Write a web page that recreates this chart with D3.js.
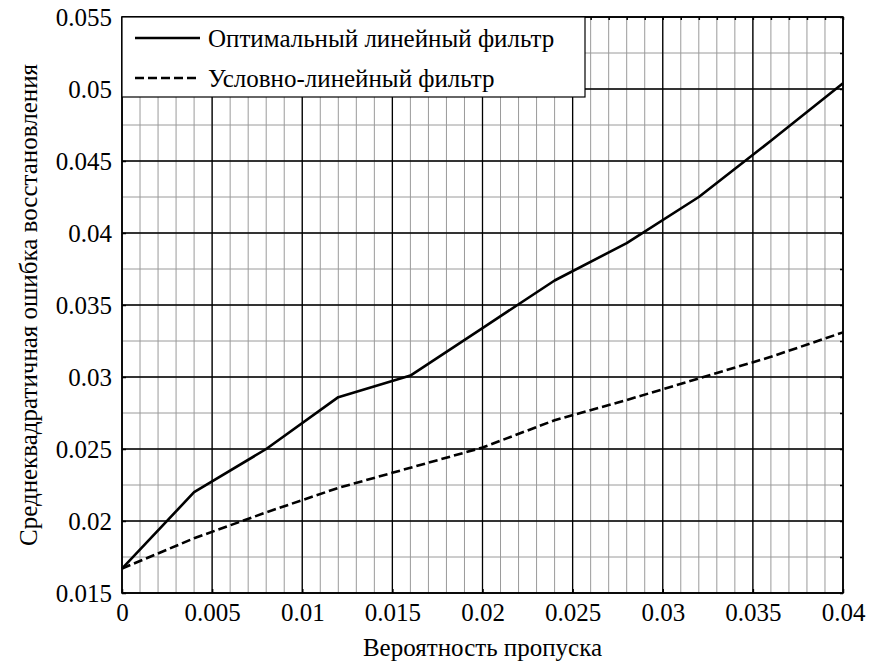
<!DOCTYPE html>
<html><head><meta charset="utf-8"><script src="https://cdnjs.cloudflare.com/ajax/libs/d3/7.8.5/d3.min.js"></script></head>
<body style="margin:0"><svg id="chart" width="873" height="666" style="display:block"></svg>
<script>
// Probability of a missing sample
const pMiss = [0, 0.004, 0.008, 0.012, 0.016, 0.020, 0.024, 0.028, 0.032, 0.036, 0.040];
// RMS reconstruction error of each filter
const optimalFilter = [0.0167, 0.0220, 0.0250, 0.0286, 0.0301, 0.0334, 0.0367, 0.0393, 0.0425, 0.0464, 0.0504];
const conditionalFilter = [0.0167, 0.0188, 0.0206, 0.0223, 0.0237, 0.0251, 0.0270, 0.0284, 0.0299, 0.0314, 0.0331];
const seriesNames = ["Оптимальный линейный фильтр", "Условно-линейный фильтр"];
const xTicks = [0, 0.005, 0.01, 0.015, 0.02, 0.025, 0.03, 0.035, 0.04];
const yTicks = [0.015, 0.02, 0.025, 0.03, 0.035, 0.04, 0.045, 0.05, 0.055];
const xLabel = "Вероятность пропуска";
const yLabel = "Среднеквадратичная ошибка восстановления";

const svg = d3.select("#chart")
  .attr("font-family", "Liberation Serif")
  .style("font-family", '"Liberation Serif"');
const L = 122, R = 843, T = 17, B = 593;

const x = d3.scaleLinear().domain([0, 0.04]).range([L, R]);
const y = d3.scaleLinear().domain([0.015, 0.055]).range([B, T]);

const xMinor = d3.range(0, 41).map(i => i * 0.001);
const yMinor = d3.range(0, 17).map(i => 0.015 + i * 0.0025);

const fmt = v => String(+v.toFixed(4));

// minor grid
const g = svg.append("g");
g.selectAll(".xm").data(xMinor).enter().append("line")
  .attr("x1", d => x(d)).attr("x2", d => x(d)).attr("y1", T).attr("y2", B)
  .attr("stroke", "#9a9a9a").attr("stroke-width", 1);
g.selectAll(".ym").data(yMinor).enter().append("line")
  .attr("y1", d => y(d)).attr("y2", d => y(d)).attr("x1", L).attr("x2", R)
  .attr("stroke", "#9a9a9a").attr("stroke-width", 1);

// major grid
g.selectAll(".xM").data(xTicks).enter().append("line")
  .attr("x1", d => x(d)).attr("x2", d => x(d)).attr("y1", T).attr("y2", B)
  .attr("stroke", "#000").attr("stroke-width", 1.3);
g.selectAll(".yM").data(yTicks).enter().append("line")
  .attr("y1", d => y(d)).attr("y2", d => y(d)).attr("x1", L).attr("x2", R)
  .attr("stroke", "#000").attr("stroke-width", 1.3);

// axes with inward ticks
const tickStyle = sel => {
  sel.attr("font-family", "Liberation Serif").attr("font-size", 25);
  sel.select(".domain").remove();
  sel.selectAll(".tick line").attr("stroke", "#000").attr("stroke-width", 1.5);
  sel.selectAll(".tick text").attr("fill", "#000")
    .attr("font-family", "Liberation Serif")
    .style("font-family", '"Liberation Serif"').style("font-size", "25px");
};
svg.append("g").attr("transform", `translate(0,${B})`)
  .call(d3.axisBottom(x).tickValues(xTicks).tickFormat(fmt).tickSizeInner(-4).tickPadding(10))
  .call(tickStyle);
svg.append("g").attr("transform", `translate(${L},0)`)
  .call(d3.axisLeft(y).tickValues(yTicks).tickFormat(fmt).tickSizeInner(-4).tickPadding(10))
  .call(tickStyle);
svg.append("g").attr("transform", `translate(0,${T})`)
  .call(d3.axisTop(x).tickValues(xMinor).tickFormat("").tickSizeInner(-3).tickSizeOuter(0))
  .call(tickStyle);
svg.append("g").attr("transform", `translate(${R},0)`)
  .call(d3.axisRight(y).tickValues(yMinor).tickFormat("").tickSizeInner(-3).tickSizeOuter(0))
  .call(tickStyle);

// frame
svg.append("rect").attr("x", L).attr("y", T).attr("width", R - L).attr("height", B - T)
  .attr("fill", "none").attr("stroke", "#000").attr("stroke-width", 1.6);

// curves
const line = d3.line().x((d, i) => x(pMiss[i])).y(d => y(d));
svg.append("path").datum(optimalFilter).attr("d", line)
  .attr("fill", "none").attr("stroke", "#000").attr("stroke-width", 2.6).attr("stroke-linejoin", "round");
svg.append("path").datum(conditionalFilter).attr("d", line)
  .attr("fill", "none").attr("stroke", "#000").attr("stroke-width", 2.6).attr("stroke-dasharray", "9,4");

// legend
const lg = svg.append("g");
lg.append("rect").attr("x", L).attr("y", T).attr("width", 463).attr("height", 80)
  .attr("fill", "#fff").attr("stroke", "#000").attr("stroke-width", 1.2);
const dashes = [null, "9,4"];
lg.selectAll("line").data(seriesNames).enter().append("line")
  .attr("x1", 135).attr("x2", 200).attr("y1", (d, i) => 38 + i * 40).attr("y2", (d, i) => 38 + i * 40)
  .attr("stroke", "#000").attr("stroke-width", 2.6)
  .attr("stroke-dasharray", (d, i) => dashes[i]);
lg.selectAll("text").data(seriesNames).enter().append("text")
  .attr("x", 208).attr("y", (d, i) => 38 + i * 40).attr("dy", "0.35em")
  .style("font-family", '"Liberation Serif"').style("font-size", "25px").text(d => d);

// axis titles
svg.append("text").attr("x", (L + R) / 2).attr("y", 656).attr("text-anchor", "middle")
  .style("font-family", '"Liberation Serif"').style("font-size", "25px").text(xLabel);
svg.append("text").attr("transform", `translate(28,${(T + B) / 2}) rotate(-90)`)
  .attr("text-anchor", "middle").attr("dy", "0.35em")
  .style("font-family", '"Liberation Serif"').style("font-size", "25px").text(yLabel);
</script>
</body>
</html>
